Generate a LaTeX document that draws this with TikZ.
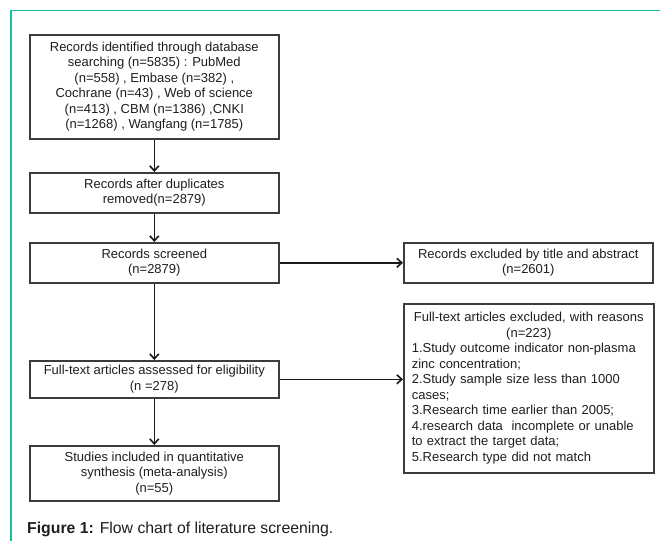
\documentclass[tikz,border=0pt]{standalone}
\usepackage{fontspec}
\setmainfont{Liberation Sans}
\usetikzlibrary{arrows.meta}
\definecolor{frameteal}{RGB}{26,190,160}
\definecolor{boxline}{RGB}{60,60,60}
\definecolor{txt}{RGB}{30,30,30}
\begin{document}
\begin{tikzpicture}[x=1pt,y=-1pt,
  box/.style={draw=boxline, line width=1.6pt, inner sep=0pt, align=center,
    text=txt, font=\fontsize{13}{15.5}\selectfont, anchor=north west},
  arr/.style={line width=1.6pt, draw=black!90, -{Straight Barb[length=5pt,width=9pt,line width=1.6pt]}}]
\useasboundingbox (0,0) rectangle (660,541);
% frame
\draw[frameteal, line width=1.4pt] (660,10.5) -- (11,10.5) -- (11,541);
% left column
\node[box, minimum width=249pt, minimum height=104pt] (b1) at (29,34)
  {Records identified through database\\
   searching (n=5835) : PubMed\\
   (n=558) , Embase (n=382) ,\\
   Cochrane (n=43) , Web of science\\
   (n=413) , CBM (n=1386) ,CNKI\\
   (n=1268) , Wangfang (n=1785)};
\node[box, minimum width=249pt, minimum height=40pt] (b2) at (29,172)
  {Records after duplicates\\removed(n=2879)};
\node[box, minimum width=249pt, minimum height=40pt] (b3) at (29,242)
  {Records screened\\(n=2879)};
\node[box, minimum width=249pt, minimum height=37pt] (b4) at (29,360)
  {Full-text articles assessed for eligibility\\(n =278)};
\node[box, minimum width=249pt, minimum height=55pt] (b5) at (29,445)
  {Studies included in quantitative\\synthesis (meta-analysis)\\(n=55)};
% right column
\node[box, minimum width=249pt, minimum height=40pt] (r1) at (403,242)
  {Records excluded by title and abstract\\(n=2601)};
\node[box, minimum width=250pt, minimum height=169pt, text width=234pt, inner xsep=8pt, align=left] (r2) at (403,303)
  {{\centering Full-text articles excluded, with reasons\\(n=223)\par}
   1.Study outcome indicator non-plasma\\
   zinc concentration;\\
   2.Study sample size less than 1000\\
   cases;\\
   3.Research time earlier than 2005;\\
   4.research data\ \ incomplete or unable\\
   to extract the target data;\\
   5.Research type did not match};
% arrows
\draw[arr] (b1.south) -- (b2.north);
\draw[arr] (b2.south) -- (b3.north);
\draw[arr] (b3.south) -- (b4.north);
\draw[arr] (b4.south) -- (b5.north);
\draw[arr] (b3.east) -- (r1.west);
\draw[arr] (b4.east) -- (b4.east -| r2.west);
% caption
\node[anchor=base west, inner sep=0pt, text=txt, font=\fontsize{15.8}{19}\selectfont] (cap) at (27,533)
  {\textbf{Figure 1:} Flow chart of literature screening.};
\end{tikzpicture}
\end{document}
